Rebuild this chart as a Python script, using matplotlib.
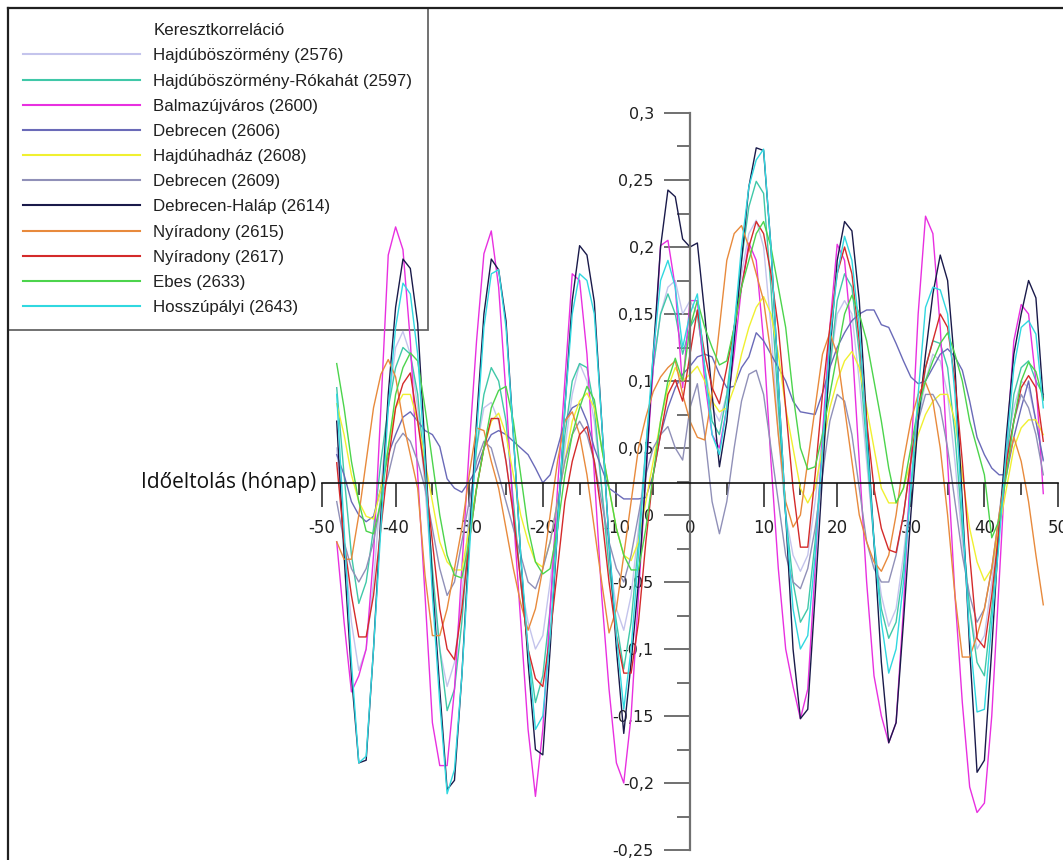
import numpy as np
import matplotlib
matplotlib.use("Agg")
import matplotlib.pyplot as plt
from matplotlib.ticker import MultipleLocator, FuncFormatter
from matplotlib.lines import Line2D

# --------- DATA ---------
lags = list(range(-48, 49))

names = [
    "Hajdúböszörmény (2576)",
    "Hajdúböszörmény-Rókahát (2597)",
    "Balmazújváros (2600)",
    "Debrecen (2606)",
    "Hajdúhadház (2608)",
    "Debrecen (2609)",
    "Debrecen-Haláp (2614)",
    "Nyíradony (2615)",
    "Nyíradony (2617)",
    "Ebes (2633)",
    "Hosszúpályi (2643)",
]

colors = [
    "#c4c4ec", "#40c8a8", "#e830e0", "#6a6ab8", "#f0f030", "#9090b8",
    "#1a1a4a", "#e88a3c", "#d42a2a", "#4cd44c", "#30d8e0",
]

s2576 = [0.05, -0.02, -0.08, -0.116, -0.10, -0.05, 0.02, 0.08, 0.125, 0.137, 0.12, 0.08,
         0.02, -0.05, -0.10, -0.128, -0.11, -0.06, 0.00, 0.05, 0.08, 0.084, 0.07, 0.04,
         0.00, -0.05, -0.08, -0.10, -0.09, -0.05, 0.00, 0.05, 0.09, 0.113, 0.10, 0.07,
         0.02, -0.03, -0.07, -0.086, -0.06, -0.01, 0.05, 0.11, 0.15, 0.17, 0.175, 0.15,
         0.16, 0.15, 0.11, 0.08, 0.07, 0.09, 0.13, 0.18, 0.21, 0.22, 0.20, 0.14,
         0.06, 0.00, -0.03, -0.042, -0.03, 0.01, 0.06, 0.11, 0.15, 0.16, 0.15, 0.10,
         0.04, -0.02, -0.06, -0.083, -0.07, -0.03, 0.02, 0.07, 0.10, 0.12, 0.115, 0.09,
         0.04, -0.02, -0.07, -0.10, -0.09, -0.05, 0.00, 0.05, 0.08, 0.10, 0.095, 0.07,
         0.04]

s2597 = [0.095, 0.03, -0.03, -0.066, -0.05, -0.01, 0.04, 0.08, 0.11, 0.125, 0.12, 0.09,
         0.03, -0.04, -0.10, -0.146, -0.13, -0.08, -0.01, 0.05, 0.09, 0.11, 0.10, 0.07,
         0.01, -0.05, -0.10, -0.14, -0.12, -0.07, 0.00, 0.06, 0.10, 0.113, 0.11, 0.08,
         0.02, -0.04, -0.08, -0.115, -0.08, -0.02, 0.05, 0.11, 0.15, 0.165, 0.15, 0.12,
         0.14, 0.15, 0.11, 0.07, 0.06, 0.09, 0.14, 0.19, 0.23, 0.249, 0.24, 0.17,
         0.08, 0.00, -0.05, -0.08, -0.07, -0.02, 0.05, 0.11, 0.16, 0.18, 0.17, 0.12,
         0.05, -0.02, -0.07, -0.092, -0.08, -0.04, 0.02, 0.07, 0.11, 0.13, 0.128, 0.11,
         0.06, -0.01, -0.07, -0.11, -0.12, -0.07, -0.01, 0.04, 0.09, 0.11, 0.115, 0.10,
         0.09]

s2600 = [-0.02, -0.08, -0.132, -0.12, -0.10, -0.03, 0.08, 0.194, 0.215, 0.198, 0.13, 0.03,
         -0.06, -0.155, -0.187, -0.187, -0.13, -0.04, 0.05, 0.13, 0.195, 0.212, 0.17, 0.09,
         0.00, -0.08, -0.16, -0.210, -0.16, -0.07, 0.02, 0.10, 0.180, 0.175, 0.12, 0.03,
         -0.06, -0.13, -0.185, -0.200, -0.15, -0.06, 0.03, 0.11, 0.201, 0.205, 0.17, 0.095,
         0.16, 0.16, 0.10, 0.06, 0.05, 0.08, 0.12, 0.17, 0.203, 0.19, 0.13, 0.04,
         -0.04, -0.10, -0.128, -0.152, -0.13, -0.04, 0.06, 0.14, 0.202, 0.19, 0.13, 0.04,
         -0.05, -0.12, -0.150, -0.170, -0.155, -0.07, 0.04, 0.15, 0.223, 0.21, 0.14, 0.04,
         -0.06, -0.14, -0.203, -0.222, -0.215, -0.15, -0.05, 0.05, 0.13, 0.157, 0.15, 0.10,
         0.016]

s2606 = [0.045, 0.03, 0.01, 0.00, -0.005, -0.001, 0.02, 0.045, 0.06, 0.073, 0.077, 0.07,
         0.063, 0.06, 0.051, 0.027, 0.02, 0.017, 0.025, 0.034, 0.05, 0.06, 0.063, 0.06,
         0.055, 0.05, 0.045, 0.035, 0.024, 0.03, 0.05, 0.07, 0.08, 0.083, 0.07, 0.05,
         0.035, 0.02, 0.016, 0.012, 0.012, 0.012, 0.013, 0.03, 0.06, 0.08, 0.095, 0.105,
         0.111, 0.118, 0.12, 0.118, 0.105, 0.095, 0.096, 0.11, 0.118, 0.136, 0.13, 0.12,
         0.11, 0.10, 0.085, 0.077, 0.076, 0.075, 0.091, 0.11, 0.125, 0.136, 0.145, 0.15,
         0.153, 0.153, 0.142, 0.14, 0.128, 0.115, 0.103, 0.098, 0.10, 0.11, 0.12, 0.124,
         0.118, 0.108, 0.085, 0.058, 0.045, 0.035, 0.030, 0.03, 0.058, 0.08, 0.10, 0.07,
         0.041]

s2608 = [0.083, 0.06, 0.03, 0.01, -0.001, -0.003, 0.02, 0.05, 0.08, 0.090, 0.090, 0.07,
         0.04, 0.01, -0.02, -0.035, -0.041, -0.041, -0.01, 0.02, 0.05, 0.07, 0.076, 0.06,
         0.03, 0.00, -0.02, -0.035, -0.039, -0.02, 0.01, 0.04, 0.07, 0.085, 0.091, 0.08,
         0.05, 0.02, -0.01, -0.03, -0.034, -0.02, 0.01, 0.04, 0.07, 0.095, 0.11, 0.10,
         0.105, 0.111, 0.10, 0.085, 0.077, 0.08, 0.095, 0.12, 0.14, 0.155, 0.163, 0.15,
         0.12, 0.08, 0.05, 0.02, 0.009, 0.02, 0.05, 0.08, 0.10, 0.115, 0.122, 0.11,
         0.08, 0.05, 0.02, 0.009, 0.009, 0.02, 0.04, 0.06, 0.075, 0.085, 0.090, 0.090,
         0.07, 0.03, -0.01, -0.035, -0.049, -0.04, -0.01, 0.02, 0.05, 0.065, 0.071, 0.071,
         0.06]

s2609 = [0.01, -0.02, -0.04, -0.05, -0.04, -0.02, 0.01, 0.03, 0.053, 0.061, 0.055, 0.04,
         0.02, -0.01, -0.04, -0.06, -0.05, -0.02, 0.01, 0.04, 0.055, 0.05, 0.03, 0.01,
         -0.01, -0.03, -0.05, -0.055, -0.04, -0.02, 0.01, 0.04, 0.06, 0.07, 0.06, 0.04,
         0.01, -0.02, -0.04, -0.05, -0.03, 0.00, 0.03, 0.05, 0.06, 0.066, 0.05, 0.041,
         0.08, 0.098, 0.06, 0.01, -0.014, 0.01, 0.05, 0.085, 0.105, 0.108, 0.09, 0.05,
         0.01, -0.03, -0.05, -0.055, -0.04, -0.01, 0.03, 0.07, 0.09, 0.085, 0.06, 0.02,
         -0.02, -0.04, -0.05, -0.05, -0.03, 0.00, 0.04, 0.07, 0.09, 0.09, 0.08, 0.05,
         0.01, -0.03, -0.06, -0.08, -0.07, -0.04, 0.00, 0.04, 0.07, 0.09, 0.08, 0.06,
         0.03]

s2614 = [0.07, -0.03, -0.12, -0.185, -0.183, -0.10, 0.00, 0.09, 0.155, 0.191, 0.184, 0.143,
         0.05, -0.05, -0.13, -0.205, -0.198, -0.12, -0.02, 0.07, 0.15, 0.191, 0.183, 0.145,
         0.06, -0.03, -0.11, -0.175, -0.179, -0.10, -0.01, 0.08, 0.16, 0.201, 0.194, 0.159,
         0.07, -0.02, -0.10, -0.163, -0.11, -0.05, 0.03, 0.12, 0.20, 0.2425, 0.2375, 0.206,
         0.200, 0.203, 0.15, 0.09, 0.036, 0.07, 0.13, 0.19, 0.245, 0.274, 0.272, 0.20,
         0.10, 0.00, -0.10, -0.152, -0.145, -0.06, 0.03, 0.12, 0.19, 0.219, 0.212, 0.16,
         0.07, -0.02, -0.11, -0.170, -0.155, -0.08, 0.00, 0.07, 0.12, 0.165, 0.194, 0.175,
         0.11, 0.01, -0.10, -0.192, -0.183, -0.10, -0.01, 0.06, 0.12, 0.15, 0.175, 0.162,
         0.086]

s2615 = [-0.02, -0.033, -0.033, 0.00, 0.04, 0.08, 0.105, 0.116, 0.103, 0.07, 0.045, 0.02,
         -0.045, -0.090, -0.090, -0.07, -0.04, -0.01, 0.03, 0.065, 0.063, 0.04, 0.02, -0.01,
         -0.04, -0.066, -0.086, -0.07, -0.04, 0.00, 0.04, 0.07, 0.077, 0.06, 0.03, -0.01,
         -0.05, -0.088, -0.07, -0.03, 0.01, 0.05, 0.073, 0.092, 0.103, 0.11, 0.115, 0.09,
         0.07, 0.058, 0.056, 0.09, 0.14, 0.19, 0.21, 0.216, 0.20, 0.18, 0.16, 0.12,
         0.06, 0.01, -0.009, 0.00, 0.04, 0.08, 0.12, 0.136, 0.12, 0.08, 0.04, 0.00,
         -0.02, -0.035, -0.042, -0.03, 0.00, 0.04, 0.07, 0.09, 0.099, 0.085, 0.05, 0.00,
         -0.06, -0.106, -0.106, -0.09, -0.07, -0.04, 0.00, 0.035, 0.058, 0.04, 0.01, -0.03,
         -0.067]

s2617 = [0.039, -0.02, -0.06, -0.091, -0.091, -0.06, -0.01, 0.04, 0.08, 0.098, 0.106, 0.07,
         0.03, -0.02, -0.07, -0.10, -0.108, -0.07, -0.02, 0.02, 0.05, 0.072, 0.072, 0.04,
         0.00, -0.05, -0.10, -0.122, -0.128, -0.09, -0.04, 0.01, 0.04, 0.06, 0.066, 0.04,
         0.00, -0.05, -0.09, -0.118, -0.118, -0.08, -0.02, 0.03, 0.06, 0.09, 0.101, 0.085,
         0.12, 0.153, 0.12, 0.095, 0.083, 0.11, 0.14, 0.17, 0.20, 0.219, 0.21, 0.18,
         0.14, 0.08, 0.02, -0.024, -0.024, 0.03, 0.09, 0.14, 0.18, 0.200, 0.18, 0.13,
         0.07, 0.02, -0.01, -0.026, -0.028, 0.00, 0.04, 0.08, 0.11, 0.13, 0.150, 0.14,
         0.10, 0.04, -0.03, -0.092, -0.099, -0.06, -0.01, 0.04, 0.07, 0.095, 0.104, 0.095,
         0.055]

s2633 = [0.113, 0.08, 0.04, 0.01, -0.012, -0.014, 0.01, 0.05, 0.09, 0.11, 0.121, 0.115,
         0.08, 0.04, 0.00, -0.03, -0.045, -0.047, -0.02, 0.02, 0.05, 0.08, 0.093, 0.096,
         0.07, 0.03, -0.01, -0.035, -0.044, -0.04, -0.01, 0.03, 0.06, 0.08, 0.096, 0.086,
         0.05, 0.02, -0.01, -0.03, -0.041, -0.041, -0.01, 0.03, 0.07, 0.10, 0.117, 0.10,
         0.14, 0.16, 0.14, 0.125, 0.112, 0.115, 0.14, 0.17, 0.19, 0.21, 0.219, 0.20,
         0.17, 0.14, 0.09, 0.05, 0.034, 0.036, 0.06, 0.09, 0.12, 0.15, 0.164, 0.15,
         0.13, 0.10, 0.07, 0.035, 0.009, 0.02, 0.05, 0.08, 0.10, 0.115, 0.128, 0.136,
         0.12, 0.10, 0.07, 0.05, 0.03, -0.017, -0.004, 0.03, 0.07, 0.10, 0.114, 0.107,
         0.086]

s2643 = [0.09, -0.01, -0.11, -0.185, -0.18, -0.10, -0.01, 0.08, 0.14, 0.173, 0.165, 0.12,
         0.04, -0.06, -0.14, -0.208, -0.19, -0.12, -0.03, 0.06, 0.14, 0.18, 0.183, 0.14,
         0.06, -0.03, -0.10, -0.16, -0.15, -0.09, -0.01, 0.08, 0.15, 0.18, 0.175, 0.15,
         0.07, -0.02, -0.09, -0.145, -0.10, -0.03, 0.05, 0.12, 0.175, 0.19, 0.17, 0.125,
         0.15, 0.165, 0.11, 0.06, 0.045, 0.08, 0.14, 0.20, 0.245, 0.265, 0.273, 0.20,
         0.10, 0.00, -0.07, -0.10, -0.09, -0.03, 0.05, 0.13, 0.18, 0.208, 0.19, 0.14,
         0.06, -0.02, -0.08, -0.118, -0.10, -0.05, 0.02, 0.09, 0.155, 0.170, 0.168, 0.15,
         0.09, 0.00, -0.09, -0.147, -0.145, -0.08, -0.02, 0.05, 0.11, 0.14, 0.145, 0.135,
         0.08]

series = [s2576, s2597, s2600, s2606, s2608, s2609, s2614, s2615, s2617, s2633, s2643]

legend_title = "Keresztkorreláció"
x_label = "Időeltolás (hónap)"
# -----------------------------------------------

W, H = 1063, 860
fig = plt.figure(figsize=(W / 100, H / 100), dpi=100)

# legend first (drawn underneath the curves, like the reference)
handles = [Line2D([], [], color="none")]
handles += [Line2D([], [], color=c, lw=1.5) for c in colors]
labels = [legend_title] + names
leg = fig.legend(handles, labels, loc="upper left",
                 bbox_to_anchor=(8 / W, 1 - 8 / H), bbox_transform=fig.transFigure,
                 borderaxespad=0, prop={"family": "Liberation Sans", "size": 12.2},
                 handlelength=6.9, handletextpad=0.78, borderpad=0.9,
                 labelspacing=0.6, fancybox=False)
leg.get_frame().set_edgecolor("#404040")
leg.get_frame().set_linewidth(1.3)
leg.get_frame().set_facecolor("none")
leg.set_zorder(0)
for t in leg.get_texts():
    t.set_color("#202020")

# axes placed so -50..50 and -0.25..0.3 land where the reference has them
ax = fig.add_axes([322 / W, (H - 850) / H, 736 / W, 737 / H])
ax.set_zorder(1)
ax.set_xlim(-50, 50)
ax.set_ylim(-0.25, 0.3)
ax.patch.set_visible(False)

for vals, col in zip(series, colors):
    ax.plot(lags, vals, color=col, lw=1.0)

# crossing axes
ax.spines["top"].set_visible(False)
ax.spines["right"].set_visible(False)
ax.spines["left"].set_position(("data", 0))
ax.spines["bottom"].set_position(("data", 0.024))
ax.spines["left"].set_color("#707070")
ax.spines["left"].set_linewidth(1.6)
ax.spines["bottom"].set_color("#101010")
ax.spines["bottom"].set_linewidth(1.2)

ax.xaxis.set_major_locator(MultipleLocator(10))
ax.xaxis.set_minor_locator(MultipleLocator(5))
ax.yaxis.set_major_locator(MultipleLocator(0.05))
ax.yaxis.set_minor_locator(MultipleLocator(0.025))


def comma_fmt(v, pos):
    if abs(v) < 1e-9:
        return "0"
    s = f"{v:.2f}".rstrip("0").rstrip(".")
    return s.replace(".", ",")


ax.yaxis.set_major_formatter(FuncFormatter(comma_fmt))
ax.xaxis.set_major_formatter(FuncFormatter(lambda v, p: f"{v:.0f}"))

ax.tick_params(axis="x", which="major", direction="out", length=17, width=1.2,
               color="#303030", labelsize=12, labelcolor="#202020", pad=9)
ax.tick_params(axis="x", which="minor", direction="out", length=8.5, width=1.2,
               color="#303030")
ax.tick_params(axis="y", which="major", direction="out", length=19, width=1.4,
               color="#707070", labelsize=11.5, labelcolor="#202020", pad=7)
ax.tick_params(axis="y", which="minor", direction="out", length=9.5, width=1.4,
               color="#707070")

ax.text(-50, 0.024, x_label + " ", ha="right", va="center", fontsize=15,
        family=["Open Sans", "DejaVu Sans"], color="#111111")

# outer frame (top and left edges visible in the crop)
fig.add_artist(Line2D([8 / W, 1.0], [1 - 8 / H, 1 - 8 / H], transform=fig.transFigure,
                      color="#202020", lw=1.6))
fig.add_artist(Line2D([8 / W, 8 / W], [0, 1 - 8 / H], transform=fig.transFigure,
                      color="#202020", lw=1.6))

fig.savefig("out.png", dpi=100)
